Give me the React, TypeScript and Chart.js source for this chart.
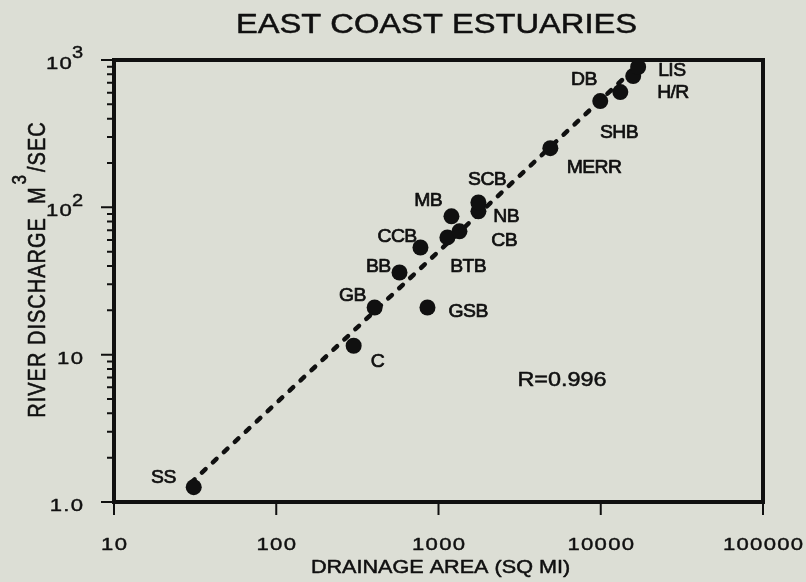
import React, { useEffect, useRef } from 'react';
import { Chart, registerables } from 'chart.js';

Chart.register(...registerables);

const FONT = '"Liberation Sans", Arial, Helvetica, sans-serif';
const BG = '#dcded5';
const INK = '#101010';

// Estuaries: drainage area (sq mi) vs river discharge (m^3/s)
const estuaries = ['SS', 'C', 'GB', 'GSB', 'BB', 'CCB', 'BTB', 'CB', 'MB', 'NB', 'SCB', 'MERR', 'DB', 'SHB', 'H/R', 'LIS'];
const drainageArea = [31, 300, 404, 855, 575, 774, 1135, 1346, 1202, 1762, 1762, 4890, 9930, 13200, 15850, 17000];
const riverDischarge = [1.26, 11.5, 20.9, 20.9, 36.1, 53.4, 62.5, 68.7, 86.9, 94, 108, 252, 526, 606, 778, 896];

// Regression line end points
const fitArea = [29.8, 17500];
const fitDischarge = [1.35, 953];
const correlationText = 'R=0.996';

// Axis ticks
const xTickValues = [10, 100, 1000, 10000, 100000];
const xTickLabels = ['10', '100', '1000', '10000', '100000'];
const yTickValues = [1, 10, 100, 1000];
const yTickLabels = ['1.0', '10', '10', '10'];
const yTickExponents = ['', '', '2', '3'];

const titleText = 'EAST COAST ESTUARIES';
const xTitleText = 'DRAINAGE AREA (SQ MI)';
const yTitleMain = 'RIVER DISCHARGE  M';
const yTitleSup = '3';
const yTitleRest = '/SEC';

// label placement relative to each marker (pixels)
const labelOffsets: [number, number][] = [
  [-30, -11], [24, 14], [-22, -13], [41, 3], [-21, -7], [-23, -12], [21, 28], [45, 8],
  [-23, -17], [28, 4], [9, -24], [44, 18], [-16, -23], [-1, 39], [40, 15], [34, 2],
];

function drawText(
  ctx: CanvasRenderingContext2D, s: string, x: number, yc: number, size: number,
  align: 'left' | 'center' | 'right', sx = 1, ls = 0, stroke = 0.5,
) {
  ctx.save();
  ctx.font = `${size}px ${FONT}`;
  (ctx as any).letterSpacing = `${ls}px`;
  const w = (ctx.measureText(s).width - ls) * sx;
  const left = align === 'center' ? x - w / 2 : align === 'right' ? x - w : x;
  ctx.translate(left, yc + 0.358 * size);
  ctx.scale(sx, 1);
  ctx.textAlign = 'left';
  ctx.textBaseline = 'alphabetic';
  ctx.fillStyle = INK;
  ctx.fillText(s, 0, 0);
  if (stroke > 0) {
    ctx.strokeStyle = INK;
    ctx.lineWidth = stroke;
    ctx.lineJoin = 'round';
    ctx.strokeText(s, 0, 0);
  }
  ctx.restore();
  return w;
}

function measure(ctx: CanvasRenderingContext2D, s: string, size: number, sx = 1, ls = 0) {
  ctx.save();
  ctx.font = `${size}px ${FONT}`;
  (ctx as any).letterSpacing = `${ls}px`;
  const w = (ctx.measureText(s).width - ls) * sx;
  ctx.restore();
  return w;
}

const decor = {
  id: 'decor',
  afterDatasetsDraw(chart: any) {
    const ctx: CanvasRenderingContext2D = chart.ctx;
    const { left, right, top, bottom } = chart.chartArea;
    const xs = chart.scales.x;
    const ys = chart.scales.y;

    ctx.save();
    ctx.strokeStyle = INK;
    ctx.fillStyle = INK;

    // frame
    ctx.lineWidth = 4;
    ctx.strokeRect(left, top, right - left, bottom - top);

    // y ticks (major + minor), pointing outward
    ctx.lineWidth = 2;
    ctx.beginPath();
    for (let d = 1; d < 1000; d *= 10) {
      for (let m = 1; m <= 9; m++) {
        const v = d * m;
        const py = ys.getPixelForValue(v);
        const len = m === 1 ? 13 : 7;
        ctx.moveTo(left - len, py);
        ctx.lineTo(left, py);
      }
    }
    const pTop = ys.getPixelForValue(1000);
    ctx.moveTo(left - 13, pTop);
    ctx.lineTo(left, pTop);
    // x ticks (major only), pointing down
    xTickValues.forEach((v) => {
      const px = xs.getPixelForValue(v);
      ctx.moveTo(px, bottom);
      ctx.lineTo(px, bottom + 13);
    });
    ctx.stroke();

    // x tick labels
    xTickValues.forEach((v, i) => {
      drawText(ctx, xTickLabels[i], xs.getPixelForValue(v), 544, 17, 'center', 1.3, 1, 0.4);
    });

    // y tick labels (with superscript exponents)
    yTickValues.forEach((v, i) => {
      const py = ys.getPixelForValue(v) + 3;
      const exp = yTickExponents[i];
      const wExp = exp ? measure(ctx, exp, 16, 1.25, 0) : 0;
      const rightEdge = 83;
      drawText(ctx, yTickLabels[i], rightEdge - wExp, py, 17, 'right', 1.3, 1, 0.4);
      if (exp) drawText(ctx, exp, rightEdge, py - 10.5, 16, 'right', 1.25, 0, 0.4);
    });

    // point labels
    const meta = chart.getDatasetMeta(0);
    meta.data.forEach((el: any, i: number) => {
      const [dx, dy] = labelOffsets[i];
      drawText(ctx, estuaries[i], el.x + dx, el.y + dy, 19, 'center', 1.02, -0.6, 0.7);
    });

    // correlation text
    drawText(ctx, correlationText, 562, 378.5, 20, 'center', 1.17, 0, 0.5);

    // title
    drawText(ctx, titleText, (left + right) / 2 - 2, 23.5, 27, 'center', 1.21, 0, 0.5);

    // x axis title
    drawText(ctx, xTitleText, (left + right) / 2 + 2, 566.5, 18, 'center', 1.2, 0, 0.5);

    // y axis title (rotated)
    ctx.save();
    ctx.translate(44.5, 270);
    ctx.rotate(-Math.PI / 2);
    ctx.scale(1, 1.15);
    const s1 = 20, s2 = 17, ls = 1;
    const w1 = measure(ctx, yTitleMain, s1, 1, ls);
    const w2 = measure(ctx, yTitleSup, s2, 1, 0);
    const w3 = measure(ctx, yTitleRest, s1, 1, ls);
    const gap = 3;
    const total = w1 + w2 + w3 + 2 * gap;
    let x0 = -total / 2;
    const capC = -0.358 * s1;
    drawText(ctx, yTitleMain, x0, capC, s1, 'left', 1, ls, 0.5);
    x0 += w1 + gap;
    drawText(ctx, yTitleSup, x0, capC - 15, s2, 'left', 1, 0, 0.5);
    x0 += w2 + gap;
    drawText(ctx, yTitleRest, x0, capC, s1, 'left', 1, ls, 0.5);
    ctx.restore();

    ctx.restore();
  },
};

export default function App() {
  const ref = useRef<HTMLCanvasElement>(null);
  useEffect(() => {
    const points = drainageArea.map((a, i) => ({ x: a, y: riverDischarge[i] }));
    const fit = fitArea.map((a, i) => ({ x: a, y: fitDischarge[i] }));
    const chart = new Chart(ref.current as HTMLCanvasElement, {
      type: 'scatter',
      data: {
        datasets: [
          {
            type: 'scatter',
            data: points,
            pointRadius: 8,
            pointBackgroundColor: INK,
            pointBorderWidth: 0,
            backgroundColor: INK,
            order: 0,
          } as any,
          {
            type: 'line',
            data: fit,
            borderColor: INK,
            borderWidth: 4.5,
            borderDash: [5, 10],
            borderCapStyle: 'round',
            pointRadius: 0,
            fill: false,
            order: 1,
          } as any,
        ],
      },
      options: {
        responsive: false,
        animation: false,
        devicePixelRatio: 1,
        events: [],
        layout: { padding: { left: 0, right: 43, top: 60, bottom: 0 } },
        plugins: {
          legend: { display: false },
          tooltip: { enabled: false },
          title: { display: false },
        },
        scales: {
          x: {
            type: 'logarithmic',
            min: 10,
            max: 100000,
            grid: { display: false },
            border: { display: false },
            ticks: { display: false },
            afterFit: (s: any) => { s.height = 80; },
          },
          y: {
            type: 'logarithmic',
            min: 1,
            max: 1000,
            grid: { display: false },
            border: { display: false },
            ticks: { display: false },
            afterFit: (s: any) => { s.width = 114; },
          },
        },
      } as any,
      plugins: [decor],
    });
    return () => chart.destroy();
  }, []);
  return (
    <div style={{ position: 'fixed', left: 0, top: 0, width: 806, height: 582, background: BG }}>
      <canvas ref={ref} width={806} height={582} style={{ display: 'block' }} />
    </div>
  );
}
